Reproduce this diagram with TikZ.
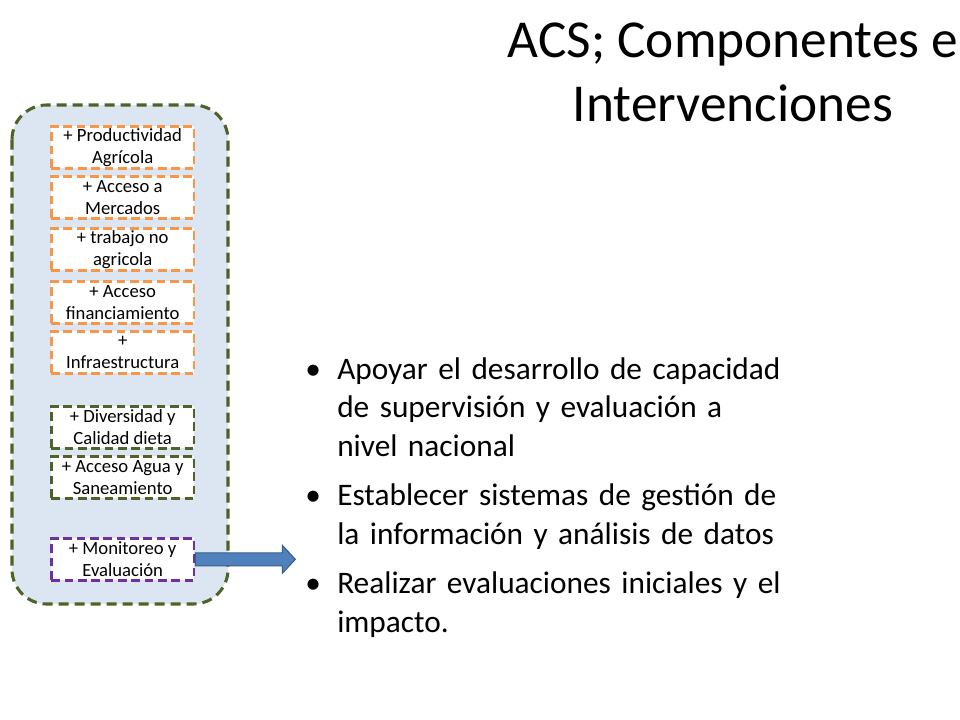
\documentclass[tikz,border=0pt]{standalone}
\usepackage{fontspec}
\setmainfont{Carlito}
\usetikzlibrary{calc}
\definecolor{boxorange}{HTML}{F79646}
\definecolor{boxgreen}{HTML}{4F6228}
\definecolor{boxpurple}{HTML}{7030A0}
\definecolor{panelfill}{HTML}{DCE6F2}
\definecolor{arrowfill}{HTML}{4F81BD}
\definecolor{arrowline}{HTML}{385D8A}
\newcommand{\bulitem}{\leavevmode\llap{\makebox[24pt][l]{•}}}
\tikzset{
  px/.style={x=0.75pt,y=-0.75pt},
  item/.style={draw=#1, line width=2pt, dash pattern=on 6.5pt off 3.5pt, fill=white,
    minimum width=107pt, minimum height=31.5pt, inner sep=0pt, align=center,
    font=\fontsize{14}{16.5}\selectfont, anchor=north west},
  panel/.style={draw=boxgreen, fill=panelfill, line width=2.3pt, dash pattern=on 7.5pt off 4.5pt, rounded corners=26pt},
}
\begin{document}
\begin{tikzpicture}[px]
\useasboundingbox (0,0) rectangle (960,720);
\draw[panel] (12,105) rectangle (228,604);
\node[item=boxorange] (m1) at (50,125) {+ Productividad\\Agrícola};
\node[item=boxorange] (m2) at (50,175) {+ Acceso a\\Mercados};
\node[item=boxorange] (m3) at (50,227) {+ trabajo no\\agricola};
\node[item=boxorange] (m4) at (50,280) {+ Acceso\\financiamiento};
\node[item=boxorange] (m5) at (50,330) {+\\Infraestructura};
\node[item=boxgreen] (m6) at (50,405) {+ Diversidad y\\Calidad dieta};
\node[item=boxgreen] (m7) at (50,455) {+ Acceso Agua y\\Saneamiento};
\node[item=boxpurple] (m8) at (50,537) {+ Monitoreo y\\Evaluación};
\draw[fill=arrowfill, draw=arrowline, line width=0.8pt]
  ($(m8.east)+(0,-6.5)$) -- ++(87,0) -- ++(0,-7.5) -- ++(13,14) -- ++(-13,14) -- ++(0,-7.5) -- ++(-87,0) -- cycle;
\node[font=\fontsize{40}{48}\selectfont, align=center, anchor=north] (title) at (733,18) {ACS; Componentes e\\Intervenciones};
\node[anchor=north west, text width=400pt, font=\fontsize{23.5}{29}\selectfont, inner sep=0pt] (bul) at (305,357) {%
  \parindent=0pt
  \raggedright
  \leftskip=24pt
  \hyphenpenalty=10000 \exhyphenpenalty=10000
  \bulitem Apoyar el desarrollo de capacidad\newline de supervisión y evaluación a\newline nivel nacional\par
  \vspace{8pt}
  \bulitem Establecer sistemas de gestión de\newline la información y análisis de datos\par
  \vspace{8pt}
  \bulitem Realizar evaluaciones iniciales y el\newline impacto.\par};
\end{tikzpicture}
\end{document}
